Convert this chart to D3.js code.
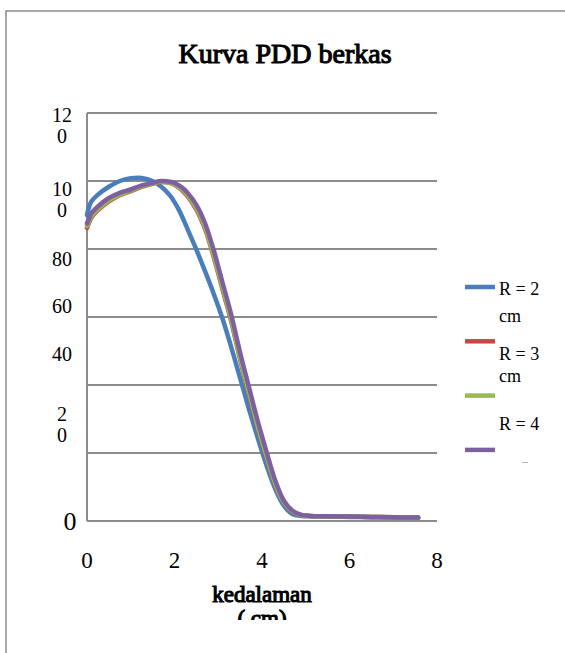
<!DOCTYPE html>
<html>
<head>
<meta charset="utf-8">
<script src="https://cdn.jsdelivr.net/npm/d3@7"></script>
<style>
  body { margin: 0; background: #fff; }
  svg text { font-family: "Liberation Serif", "Times New Roman", Times, serif; }
</style>
</head>
<body>
<script>
// depth (cm) sampled along each curve
const depth = [0, 0.05, 0.1, 0.25, 0.5, 0.75, 1.0, 1.25, 1.5, 1.7, 1.9, 2.0, 2.1, 2.2, 2.3, 2.5, 2.7, 2.9,
  3.1, 3.3, 3.5, 3.7, 3.9, 4.1, 4.3, 4.5, 4.7, 4.9, 5.1, 5.5, 6, 6.5, 7, 7.57];

const pddR2 = [90, 92.5, 94, 96, 98.3, 100, 100.8, 100.9, 100, 98.3, 95.7, 93.8, 91.5, 88.8, 85.8, 79.8, 73.4, 66.7,
  59.4, 51, 42, 33, 24.5, 16.5, 9.5, 4.5, 2, 1.5, 1.4, 1.3, 1.2, 1.1, 1.0, 0.9];
const pddR3 = [86.2, 87.8, 89.2, 91.4, 94, 95.8, 97, 98.3, 99.2, 99.7, 99.4, 98.9, 98, 96.9, 95.5, 91.6, 85.8, 77.5,
  68, 58.5, 47.5, 37.5, 27.6, 18.9, 10.8, 5.4, 2.7, 1.7, 1.5, 1.4, 1.3, 1.2, 1.1, 1.0];
const pddR4 = [86.8, 88.2, 89.6, 91.7, 94.3, 96, 97.2, 98.4, 99.3, 99.8, 99.5, 99, 98.2, 97.2, 95.8, 92, 86.3, 78,
  68.5, 59, 48, 38, 28, 19.2, 11, 5.5, 2.8, 1.7, 1.5, 1.4, 1.3, 1.2, 1.1, 1.0];
const pddR5 = [87.5, 89, 90.5, 92.5, 95, 96.5, 97.5, 98.7, 99.5, 100, 99.8, 99.4, 98.7, 97.8, 96.5, 93, 87.5, 79.5,
  70, 60.5, 49.5, 39.5, 29.5, 20.5, 12, 6, 3, 1.8, 1.5, 1.4, 1.3, 1.2, 1.1, 1.0];

const seriesValues = [pddR2, pddR3, pddR4, pddR5];
const seriesColors = ["#4a7ebb", "#be4b48", "#98b954", "#7d60a0"];
// legend text as it shows (wrapped and cut in the original)
const legendLines = [["R = 2", "cm"], ["R = 3", "cm"], ["R = 4"], ["\u2013"]];

const xTicks = [0, 2, 4, 6, 8];
const yTicks = [0, 20, 40, 60, 80, 100, 120];
const yTickLabels = ["0", "2\n0", "40", "60", "80", "10\n0", "12\n0"];

const W = 565, H = 653;
const svg = d3.select("body").append("svg").attr("width", W).attr("height", H);

// outer frame
svg.append("rect").attr("x", 6).attr("y", 11).attr("width", W + 10).attr("height", H + 10)
  .attr("fill", "none").attr("stroke", "#8c8c8c").attr("stroke-width", 1.5);

// bold serif face is missing, so thicken the regular one with a stroke
const boldish = sel => sel.attr("stroke", "#000").attr("stroke-width", 1.1).attr("paint-order", "stroke");

svg.append("text").attr("x", 285).attr("y", 63).attr("text-anchor", "middle")
  .attr("font-size", 28).call(boldish).text("Kurva PDD berkas");

const x = d3.scaleLinear().domain([0, 8]).range([87, 437]);
const y = d3.scaleLinear().domain([0, 120]).range([521, 113]);

// gridlines
svg.append("g").selectAll("line").data(yTicks).join("line")
  .attr("x1", x(0)).attr("x2", x(8))
  .attr("y1", d => y(d)).attr("y2", d => y(d))
  .attr("stroke", "#8c8c8c").attr("stroke-width", 2);
svg.append("line").attr("x1", x(0)).attr("x2", x(0)).attr("y1", y(120)).attr("y2", y(0))
  .attr("stroke", "#8c8c8c").attr("stroke-width", 2);

// y labels sit oddly in the source; per-tick nudges
const yLabelDy = [9, -32, -24, -4, 17, 15, 9];
const yLabelSize = [26, 20, 20, 20, 20, 20, 20];
const yl = svg.append("g").attr("text-anchor", "middle");
yTicks.forEach((v, i) => {
  const t = yl.append("text").attr("x", i === 0 ? 70 : 62).attr("y", y(v) + yLabelDy[i])
    .attr("font-size", yLabelSize[i]);
  yTickLabels[i].split("\n").forEach((s, j) => {
    t.append("tspan").attr("x", i === 0 ? 70 : 62).attr("dy", j ? 21 : 0).text(s);
  });
});

svg.append("g").attr("text-anchor", "middle").selectAll("text").data(xTicks).join("text")
  .attr("x", d => x(d)).attr("y", 568).attr("font-size", 23).text(d => d);

// axis title, second line cut off at the frame like the original
svg.append("clipPath").attr("id", "cut").append("rect")
  .attr("x", 0).attr("y", 0).attr("width", W).attr("height", 620);
const xt = svg.append("text").attr("clip-path", "url(#cut)").attr("text-anchor", "middle")
  .attr("font-size", 23).call(boldish);
xt.append("tspan").attr("x", 262).attr("y", 602).text("kedalaman");
xt.append("tspan").attr("x", 262).attr("dy", 24).text("( cm)");

const line = d3.line().x((d, i) => x(depth[i])).y(d => y(d)).curve(d3.curveCatmullRom.alpha(0.5));
svg.append("g").selectAll("path").data(seriesValues).join("path")
  .attr("d", line).attr("fill", "none")
  .attr("stroke", (d, i) => seriesColors[i]).attr("stroke-width", 4.5)
  .attr("stroke-linejoin", "round").attr("stroke-linecap", "round");

// legend
const legendTextY = [[295, 322], [360, 382], [430], [465]];
const lg = svg.append("g");
seriesColors.forEach((c, i) => {
  const my = 287 + i * 54.3;
  lg.append("line").attr("x1", 465).attr("x2", 495).attr("y1", my).attr("y2", my)
    .attr("stroke", c).attr("stroke-width", 4.5);
  legendLines[i].forEach((s, j) => {
    lg.append("text").attr("x", i === 3 ? 522 : 499).attr("y", legendTextY[i][j])
      .attr("font-size", i === 3 ? 12 : 18).attr("fill", i === 3 ? "#999" : "#000").text(s);
  });
});
</script>
</body>
</html>
